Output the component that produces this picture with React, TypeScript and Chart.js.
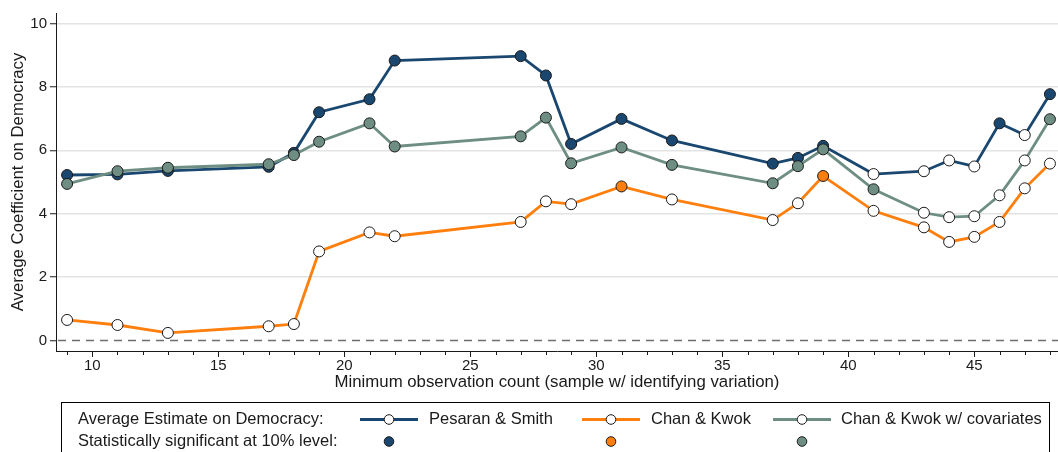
import React, { useEffect, useRef } from "react";
import { Chart, registerables } from "chart.js";

Chart.register(...registerables);

const xValues = [9, 11, 13, 17, 18, 19, 21, 22, 27, 28, 29, 31, 33, 37, 38, 39, 41, 43, 44, 45, 46, 47, 48];
const pesaranSmith = [5.22, 5.24, 5.35, 5.48, 5.92, 7.2, 7.61, 8.83, 8.97, 8.36, 6.2, 6.99, 6.31, 5.58, 5.76, 6.14, 5.25, 5.34, 5.68, 5.49, 6.85, 6.48, 7.77];
const pesaranSig = [1, 1, 1, 1, 1, 1, 1, 1, 1, 1, 1, 1, 1, 1, 1, 1, 0, 0, 0, 0, 1, 0, 1];
const chanKwok = [0.65, 0.49, 0.24, 0.45, 0.52, 2.81, 3.41, 3.29, 3.74, 4.39, 4.3, 4.86, 4.45, 3.8, 4.33, 5.19, 4.09, 3.57, 3.11, 3.27, 3.74, 4.8, 5.58];
const chanKwokSig = [0, 0, 0, 0, 0, 0, 0, 0, 0, 0, 0, 1, 0, 0, 0, 1, 0, 0, 0, 0, 0, 0, 0];
const chanKwokCov = [4.94, 5.34, 5.45, 5.56, 5.85, 6.27, 6.85, 6.12, 6.44, 7.03, 5.59, 6.09, 5.54, 4.96, 5.5, 6.03, 4.77, 4.03, 3.89, 3.92, 4.58, 5.68, 6.98];
const chanKwokCovSig = [1, 1, 1, 1, 1, 1, 1, 1, 1, 1, 1, 1, 1, 1, 1, 1, 1, 0, 0, 0, 0, 0, 1];

const seriesNames = ["Pesaran & Smith", "Chan & Kwok", "Chan & Kwok w/ covariates"];
const xTickLabels = [10, 15, 20, 25, 30, 35, 40, 45];
const yTickLabels = [0, 2, 4, 6, 8, 10];
const legendRow1 = "Average Estimate on Democracy:";
const legendRow2 = "Statistically significant at 10% level:";
const xTitle = "Minimum observation count (sample w/ identifying variation)";
const yTitle = "Average Coefficient on Democracy";

const BLUE = "#1a476f";
const ORANGE = "#ff7f0e";
const TEAL = "#6e8e84";
const FONT = "'Liberation Sans', Arial, Helvetica, sans-serif";

function makeDataset(label: string, values: number[], sig: number[], color: string, order: number) {
  return {
    label,
    data: xValues.map((x, i) => ({ x, y: values[i] })),
    borderColor: color,
    borderWidth: 2.8,
    pointRadius: 5.5,
    pointBorderWidth: 1,
    pointBorderColor: "#1a1a1a",
    pointBackgroundColor: sig.map((s) => (s ? color : "#ffffff")),
    tension: 0,
    clip: false,
    order,
  };
}

const decorPlugin = {
  id: "decor",
  beforeDatasetsDraw(chart: any) {
    const { ctx, chartArea, scales } = chart;
    const y0 = scales.y.getPixelForValue(0);
    ctx.save();
    ctx.strokeStyle = "#6e6e6e";
    ctx.lineWidth = 1.6;
    ctx.setLineDash([8, 6]);
    ctx.beginPath();
    ctx.moveTo(chartArea.left + 2, y0);
    ctx.lineTo(chartArea.right, y0);
    ctx.stroke();
    ctx.restore();
  },
  afterDraw(chart: any) {
    const { ctx, chartArea, scales } = chart;
    const xs = scales.x;
    ctx.save();
    ctx.strokeStyle = "#1a1a1a";
    ctx.lineWidth = 1;
    for (let v = 9; v <= 48; v++) {
      const px = Math.round(xs.getPixelForValue(v)) + 0.5;
      const len = v % 5 === 0 ? 6 : 4;
      ctx.beginPath();
      ctx.moveTo(px, chartArea.bottom);
      ctx.lineTo(px, chartArea.bottom + len);
      ctx.stroke();
    }
    ctx.strokeStyle = "#000";
    ctx.lineWidth = 1;
    ctx.strokeRect(61.5, 402.5, 988, 70);
    ctx.fillStyle = "#1a1a1a";
    ctx.font = `16.5px ${FONT}`;
    ctx.textBaseline = "middle";
    ctx.textAlign = "left";
    const r1 = 419.5;
    const r2 = 441.5;
    ctx.fillText(legendRow1, 78, r1);
    ctx.fillText(legendRow2, 78, r2);
    const items = [
      { x0: 360, x1: 418, m: 389, tx: 429, color: BLUE, name: seriesNames[0] },
      { x0: 582, x1: 640, m: 611, tx: 651, color: ORANGE, name: seriesNames[1] },
      { x0: 773, x1: 831, m: 802, tx: 841, color: TEAL, name: seriesNames[2] },
    ];
    for (const it of items) {
      ctx.strokeStyle = it.color;
      ctx.lineWidth = 2.8;
      ctx.beginPath();
      ctx.moveTo(it.x0, r1);
      ctx.lineTo(it.x1, r1);
      ctx.stroke();
      ctx.beginPath();
      ctx.arc(it.m, r1, 4.8, 0, Math.PI * 2);
      ctx.fillStyle = "#fff";
      ctx.fill();
      ctx.strokeStyle = "#1a1a1a";
      ctx.lineWidth = 1;
      ctx.stroke();
      ctx.beginPath();
      ctx.arc(it.m, r2, 4.8, 0, Math.PI * 2);
      ctx.fillStyle = it.color;
      ctx.fill();
      ctx.stroke();
      ctx.fillStyle = "#1a1a1a";
      ctx.fillText(it.name, it.tx, r1);
    }
    ctx.restore();
  },
};

export default function App() {
  const ref = useRef<HTMLCanvasElement | null>(null);
  useEffect(() => {
    if (!ref.current) return;
    const chart = new Chart(ref.current, {
      type: "line",
      data: {
        datasets: [
          makeDataset(seriesNames[0], pesaranSmith, pesaranSig, BLUE, 1),
          makeDataset(seriesNames[1], chanKwok, chanKwokSig, ORANGE, 2),
          makeDataset(seriesNames[2], chanKwokCov, chanKwokCovSig, TEAL, 0),
        ] as any,
      },
      options: {
        responsive: false,
        animation: false,
        layout: { autoPadding: false, padding: { top: 13, right: 0, bottom: 60, left: 0 } },
        plugins: { legend: { display: false }, tooltip: { enabled: false } },
        scales: {
          x: {
            type: "linear",
            min: 8.56,
            max: 48.32,
            afterBuildTicks: (s: any) => {
              s.ticks = xTickLabels.map((v) => ({ value: v }));
            },
            afterFit: (s: any) => {
              s.height = 41;
              s.paddingLeft = 0;
              s.paddingRight = 0;
            },
            grid: { display: false, drawTicks: false },
            border: { display: true, color: "#1a1a1a", width: 1 },
            ticks: {
              autoSkip: false,
              maxRotation: 0,
              padding: 6,
              color: "#1a1a1a",
              font: { family: FONT, size: 15 },
            },
            title: {
              display: true,
              text: xTitle,
              color: "#1a1a1a",
              font: { family: FONT, size: 16.8 },
              padding: { top: 0, bottom: 0 },
            },
          },
          y: {
            type: "linear",
            min: -0.33,
            max: 10.33,
            afterBuildTicks: (s: any) => {
              s.ticks = yTickLabels.map((v) => ({ value: v }));
            },
            afterFit: (s: any) => {
              s.width = 56;
              s.paddingTop = 0;
              s.paddingBottom = 0;
            },
            grid: {
              color: (c: any) => (c.tick && c.tick.value === 0 ? "rgba(0,0,0,0)" : "#e3e3e3"),
              lineWidth: 1.5,
              tickColor: "#1a1a1a",
              tickLength: 6,
              tickWidth: 1,
            },
            border: { display: true, color: "#1a1a1a", width: 1 },
            ticks: {
              padding: 3,
              color: "#1a1a1a",
              font: { family: FONT, size: 15 },
            },
            title: {
              display: true,
              text: yTitle,
              color: "#1a1a1a",
              font: { family: FONT, size: 16.8 },
              padding: { top: 8, bottom: 0 },
            },
          },
        },
      },
      plugins: [decorPlugin],
    });
    return () => chart.destroy();
  }, []);
  return (
    <div style={{ position: "absolute", left: 0, top: 0, width: 1058, height: 452, background: "#fff" }}>
      <canvas ref={ref} width={1058} height={452} style={{ display: "block" }} />
    </div>
  );
}
